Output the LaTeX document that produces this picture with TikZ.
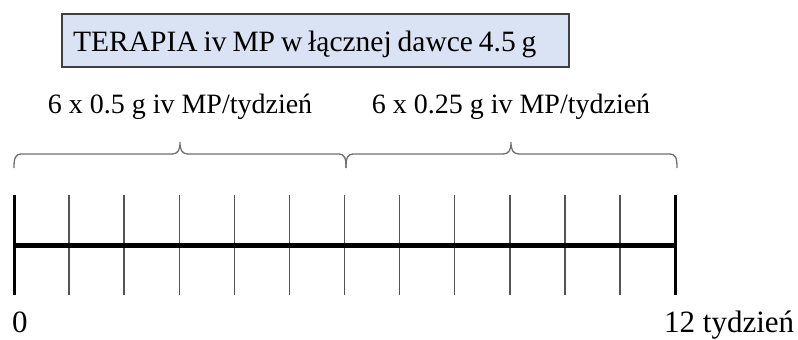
\documentclass[tikz,border=0pt]{standalone}
\usepackage{fontspec}
\setmainfont{Liberation Serif}
\newfontfamily\titlefont[WordSpace=0.8]{Liberation Serif}
\definecolor{boxfill}{HTML}{DAE3F3}
\definecolor{boxline}{HTML}{404040}
\definecolor{bracegray}{HTML}{707070}
\definecolor{tickgray}{HTML}{555555}
\begin{document}
\begin{tikzpicture}[x=1pt,y=-1pt,
  titlebox/.style={draw=boxline,fill=boxfill,line width=1.5pt},
  bracestyle/.style={draw=bracegray,line width=1.3pt},
  thintick/.style={draw=tickgray,line width=1.5pt},
  thicktick/.style={draw=black,line width=3pt},
  axisline/.style={draw=black,line width=5pt},
  lbl/.style={inner sep=0pt,font=\fontsize{28}{32}\selectfont},
  bottomlbl/.style={inner sep=0pt,font=\fontsize{31}{35}\selectfont}]
\useasboundingbox (0,0) rectangle (798,340);
% title box
\draw[titlebox] (62,14) rectangle (569,67);
\node[inner sep=0pt,anchor=base west,font=\titlefont\fontsize{29.5}{34}\selectfont] (title) at (73,51) {TERAPIA iv MP w łącznej dawce 4.5 g};
% labels
\node[lbl,anchor=base] (lab1) at (180,113) {6 x 0.5 g iv MP/tydzień};
\node[lbl,anchor=base] (lab2) at (511,113) {6 x 0.25 g iv MP/tydzień};
% braces
\draw[bracestyle] (14,168) .. controls (14,158) and (15,154) .. (22,154) -- (172,154)
  .. controls (178,154) and (180,150) .. (180,142)
  .. controls (180,150) and (182,154) .. (188,154) -- (338,154)
  .. controls (345,154) and (346,158) .. (346,168);
\draw[bracestyle] (346,168) .. controls (346,158) and (347,154) .. (354,154) -- (503,154)
  .. controls (509,154) and (511,150) .. (511,142)
  .. controls (511,150) and (513,154) .. (519,154) -- (669,154)
  .. controls (676,154) and (677,158) .. (677,168);
% axis
\coordinate (a0) at (14,245);
\coordinate (a12) at (675,245);
\foreach \i in {1,...,11} {
  \draw[thintick] ({14+\i*55.083},195) -- ({14+\i*55.083},295);
}
\draw[axisline] (a0) -- (a12);
\draw[thicktick] (14,195) -- (14,295);
\draw[thicktick] (675,195) -- (675,295);
% bottom labels
\node[bottomlbl,anchor=base west] (zero) at (12,332) {0};
\node[bottomlbl,anchor=base west] (twelve) at (664,332) {12 tydzień};
\end{tikzpicture}
\end{document}
